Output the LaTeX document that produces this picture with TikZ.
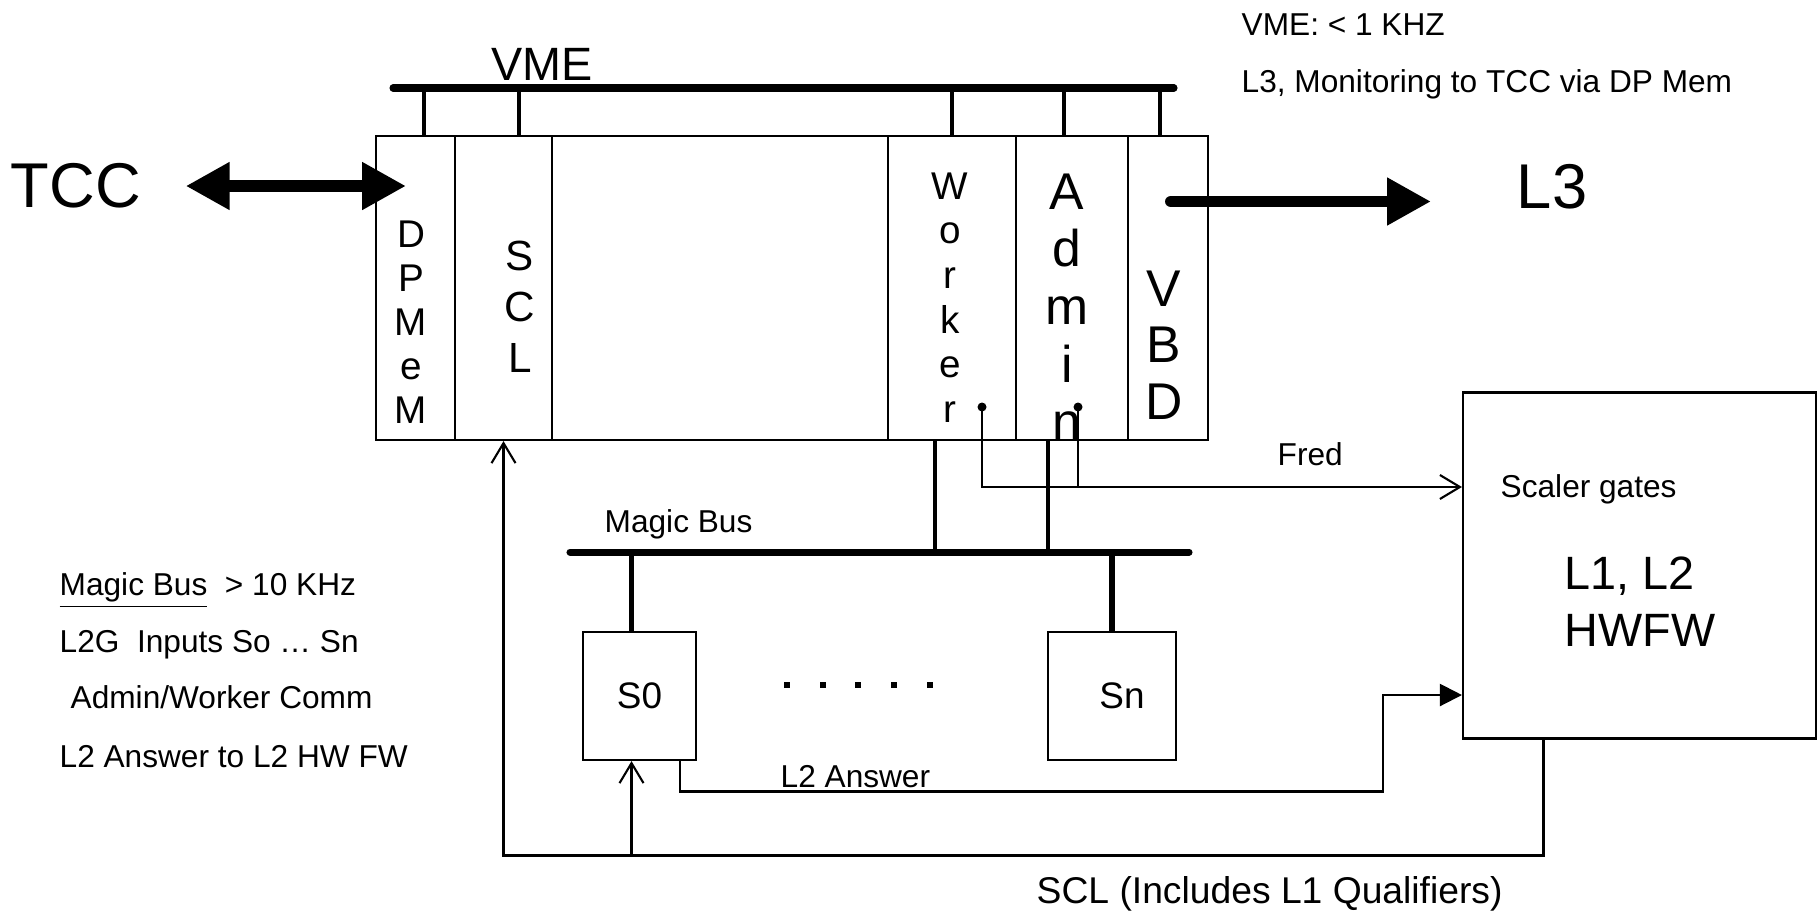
\documentclass[tikz,border=0pt]{standalone}
\usepackage{fontspec}
\setmainfont{Liberation Sans}
\usetikzlibrary{arrows.meta}

\tikzset{
  slot/.style={draw, line width=0.6pt, minimum height=3.04cm, inner sep=0pt},
  box/.style={draw, line width=0.6pt, inner sep=0pt},
  vtext/.style={align=center, inner sep=0pt, anchor=north},
  conn/.style={line width=0.6pt},
  bus/.style={line width=2pt, line cap=round},
  tap/.style={line width=1.2pt},
  fat/.style={line width=3.4pt},
  note/.style={font=\fontsize{9}{11}\selectfont, inner sep=0pt, anchor=base west},
  openhead/.style={-{Straight Barb[length=2mm, width=2.4mm]}},
}

\begin{document}
\begin{tikzpicture}
    \useasboundingbox (0,0) rectangle (18.17,9.11);

    % VME crate
    \node[slot, minimum width=0.79cm] (dpmem) at (4.155,6.23) {};
    \node[slot, minimum width=0.97cm] (scl) at (5.035,6.23) {};
    \node[slot, minimum width=3.36cm] (blank) at (7.20,6.23) {};
    \node[slot, minimum width=1.28cm] (worker) at (9.52,6.23) {};
    \node[slot, minimum width=1.12cm] (admin) at (10.72,6.23) {};
    \node[slot, minimum width=0.80cm] (vbd) at (11.68,6.23) {};

    \node[vtext, font=\fontsize{11}{12.5}\selectfont] (dpmemtxt) at (4.11,6.91) {D\\P\\M\\e\\M};
    \node[vtext, font=\fontsize{12}{14.5}\selectfont] (scltxt) at (5.20,6.71) {S\\C\\L};
    \node[vtext, font=\fontsize{11}{12.7}\selectfont] (workertxt) at (9.50,7.39) {W\\o\\r\\k\\e\\r};
    \node[vtext, font=\fontsize{14.7}{16.4}\selectfont] (admintxt) at (10.67,7.38) {A\\d\\m\\i\\n};
    \node[vtext, font=\fontsize{14.7}{16.1}\selectfont] (vbdtxt) at (11.64,6.41) {V\\B\\D};

    % VME bus
    \coordinate (vmeL) at (3.93,8.23);
    \coordinate (vmeR) at (11.74,8.23);
    \draw[bus] (vmeL) -- (vmeR);
    \node[inner sep=0pt, font=\fontsize{13.3}{15}\selectfont] (vme) at (5.42,8.465) {VME};
    \foreach \n/\dx in {dpmem/0.085, scl/0.155, worker/0, admin/-0.08, vbd/-0.08}
        \draw[tap] ([xshift=\dx cm]\n.north) -- ++(0,0.48);

    % TCC and L3
    \node[inner sep=0pt, font=\fontsize{18}{20}\selectfont] (tcc) at (0.76,7.25) {TCC};
    \node[inner sep=0pt, font=\fontsize{18}{20}\selectfont] (l3) at (15.52,7.24) {L3};
    \coordinate (tccR) at (4.06,7.25);
    \draw[fat, {Triangle[length=4.4mm, width=4.5mm]}-{Triangle[length=4.4mm, width=4.5mm]}] ([xshift=4.4mm]tcc.east) -- (tccR);
    \coordinate (l3from) at (11.71,7.095);
    \coordinate (l3to) at (14.31,7.095);
    \draw[fat, line cap=round, -{Triangle[length=4.4mm, width=4.5mm]}] (l3from) -- (l3to);

    \node[note] (vmerate) at (12.41,8.76) {VME: < 1 KHZ};
    \node[note] (l3mon) at (12.41,8.19) {L3, Monitoring to TCC via DP Mem};

    % Magic bus
    \coordinate (mbL) at (5.70,3.59);
    \coordinate (mbR) at (11.89,3.59);
    \draw[bus] (mbL) -- (mbR);
    \node[note] (mblbl) at (6.04,3.79) {Magic Bus};
    \draw[tap, line width=1.4pt] ([xshift=-1.7mm]worker.south) -- ++(0,-1.12);
    \draw[tap, line width=1.4pt] ([xshift=-2.4mm]admin.south) -- ++(0,-1.12);

    % slaves
    \node[box, minimum width=1.13cm, minimum height=1.28cm, font=\fontsize{10.5}{12}\selectfont] (s0) at (6.395,2.15) {S0};
    \node[box, minimum width=1.28cm, minimum height=1.28cm, font=\fontsize{10.5}{12}\selectfont] (sn) at (11.12,2.15) {\hspace*{2mm}Sn};
    \draw[tap, line width=1.5pt] ([xshift=-0.8mm]s0.north) -- ++(0,0.80);
    \draw[tap, line width=1.5pt] (sn.north) -- ++(0,0.80);
    \foreach \x in {7.87,8.23,8.58,8.94,9.30}
        \fill (\x-0.03,2.23) rectangle +(0.06,0.06);

    % L1, L2 HWFW
    \node[box, minimum width=3.53cm, minimum height=3.46cm] (hw) at (16.395,3.455) {};
    \node[note] (scaler) at (15.00,4.14) {Scaler gates};
    \node[inner sep=0pt, align=left, anchor=west, font=\fontsize{13.3}{16.2}\selectfont] (hwtxt) at (15.64,3.09) {L1, L2\\HWFW};

    % Fred
    \coordinate (wdot) at (9.82,5.04);
    \coordinate (adot) at (10.78,5.04);
    \coordinate (fredin) at ([yshift=7.85mm]hw.west);
    \fill (wdot) circle (0.045);
    \fill (adot) circle (0.045);
    \draw[conn, openhead] (wdot) |- (fredin);
    \draw[conn] (adot) -- (adot |- fredin);
    \node[note] (fredlbl) at (12.77,4.46) {Fred};

    % L2 answer
    \coordinate (l2bend) at (13.83,1.195);
    \draw[conn, -{Triangle[length=2.2mm, width=2.2mm]}] ([xshift=4.05mm]s0.south) |- (l2bend) |- ([yshift=-12.95mm]hw.west);
    \node[note] (l2lbl) at (7.80,1.24) {L2 Answer};

    % SCL return
    \coordinate (sclret) at (5.035,0.555);
    \draw[conn, openhead] ([xshift=-9.6mm]hw.south) |- (sclret) -- (scl.south);
    \coordinate (s0in) at ([xshift=-0.8mm]s0.south);
    \draw[conn, openhead] (s0in |- sclret) -- (s0in);
    \node[note, font=\fontsize{10.6}{12}\selectfont] (sclcap) at (10.36,0.08) {SCL (Includes L1 Qualifiers)};

    % notes
    \node[note] (note1) at (0.59,3.16) {\underline{Magic Bus}\ \ > 10 KHz};
    \node[note] (note2) at (0.59,2.59) {L2G\ \ Inputs So … Sn};
    \node[note] (note3) at (0.70,2.03) {Admin/Worker Comm};
    \node[note] (note4) at (0.59,1.44) {L2 Answer to L2 HW FW};
\end{tikzpicture}
\end{document}
